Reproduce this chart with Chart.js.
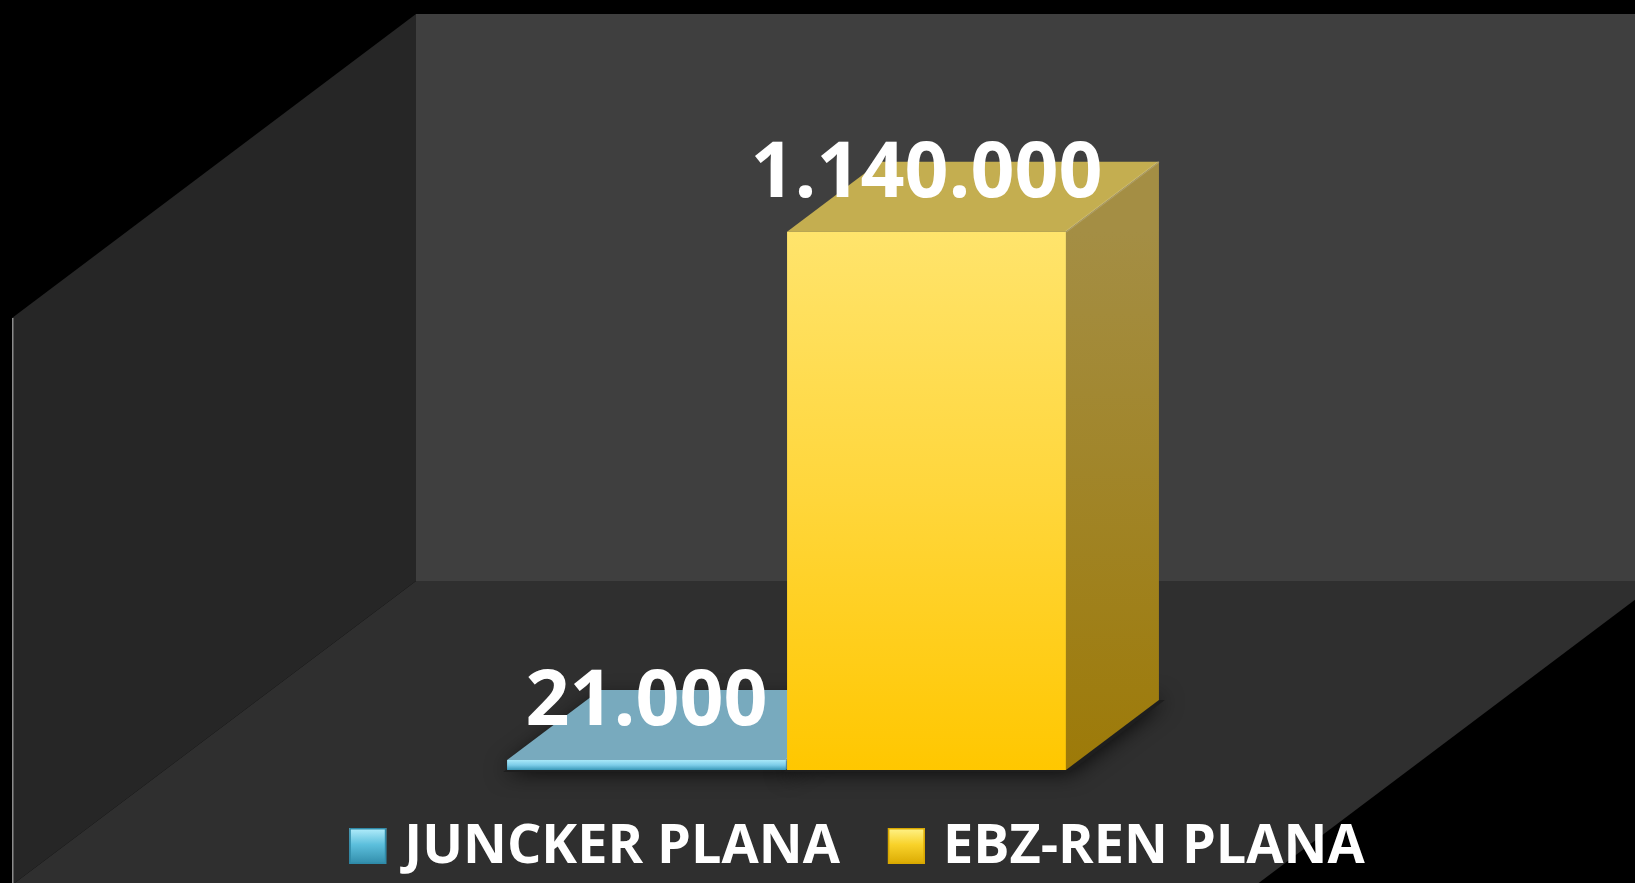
<!DOCTYPE html>
<html lang="eu">
<head>
    <meta charset="UTF-8">
    <title>Juncker plana / EBZ-ren plana</title>
    <script src="https://cdn.jsdelivr.net/npm/chart.js@4.4.0/dist/chart.umd.min.js"></script>
    <style>
        html, body { margin: 0; padding: 0; background: #000; overflow: hidden; }
        .chart-wrapper { position: relative; width: 1635px; height: 883px; }
    </style>
</head>
<body>
    <div class="chart-wrapper">
        <canvas id="planChart"></canvas>
    </div>

    <script>
        // --- Data ---
        const categories = [''];
        const seriesNames = ['JUNCKER PLANA', 'EBZ-REN PLANA'];
        const seriesValues = [21000, 1140000];
        const yMax = 1400000;

        // --- Styling ---
        const palette = [
            { front: ['#a8e8f8', '#7dcde9', '#3a98b8'], top: '#78aabe', side: ['#5f93a8', '#4b7f93'], legend: ['#b5eefc', '#5cbfdc', '#2f8aa8'] },
            { front: ['#ffe46c', '#ffd63a', '#ffc700'], top: '#c4ae50', side: ['#a48e44', '#9d7a08'], legend: ['#fff38a', '#f8d22a', '#d9a800'] }
        ];
        const depth = { dx: 93, dy: -70 };         // bar depth offset
        const frame = {
            left: 416, right: 1660, top: 14, bottom: 581,
            dx: -404, dy: 304,
            back: '#3f3f3f', side: '#262626', floor: '#2f2f2f'
        };

        // thousands with dots: 1140000 -> 1.140.000
        function fmt(v) {
            return String(v).replace(/\B(?=(\d{3})+(?!\d))/g, '.');
        }

        function frontFill(i) {
            return function(ctx) {
                const stops = palette[i].front;
                if (ctx.type !== 'data' || !ctx.chart.chartArea) return stops[1];
                const y = ctx.chart.scales.y;
                const top = y.getPixelForValue(ctx.raw);
                const base = y.getPixelForValue(0);
                const g = ctx.chart.ctx.createLinearGradient(0, top, 0, base);
                g.addColorStop(0, stops[0]);
                g.addColorStop(0.5, stops[1]);
                g.addColorStop(1, stops[2]);
                return g;
            };
        }

        function poly(ctx, pts) {
            ctx.beginPath();
            ctx.moveTo(pts[0][0], pts[0][1]);
            for (let k = 1; k < pts.length; k++) ctx.lineTo(pts[k][0], pts[k][1]);
            ctx.closePath();
        }

        // back wall, side wall and floor
        const roomPlugin = {
            id: 'room',
            beforeDraw(chart) {
                const ctx = chart.ctx;
                const f = frame;
                ctx.save();
                ctx.fillStyle = '#000';
                ctx.fillRect(0, 0, chart.width, chart.height);
                ctx.fillStyle = f.back;
                ctx.fillRect(f.left, f.top, f.right - f.left, f.bottom - f.top);
                ctx.fillStyle = f.side;
                poly(ctx, [[f.left, f.top], [f.left + f.dx, f.top + f.dy], [f.left + f.dx, f.bottom + f.dy], [f.left, f.bottom]]);
                ctx.fill();
                ctx.fillStyle = f.floor;
                poly(ctx, [[f.left, f.bottom], [f.right, f.bottom], [f.right + f.dx, f.bottom + f.dy], [f.left + f.dx, f.bottom + f.dy]]);
                ctx.fill();
                ctx.strokeStyle = '#8a8a8a';
                ctx.lineWidth = 1.5;
                ctx.beginPath();
                ctx.moveTo(f.left + f.dx + 0.75, f.top + f.dy);
                ctx.lineTo(f.left + f.dx + 0.75, chart.height);
                ctx.stroke();
                ctx.restore();
            }
        };

        // top and side faces of the bars, plus floor shadow
        const depthPlugin = {
            id: 'barDepth',
            beforeDatasetsDraw(chart) {
                const ctx = chart.ctx;
                const bars = [];
                chart.data.datasets.forEach((ds, i) => {
                    chart.getDatasetMeta(i).data.forEach(el => {
                        const p = el.getProps(['x', 'y', 'base', 'width'], true);
                        bars.push({ i, l: p.x - p.width / 2, r: p.x + p.width / 2, y: p.y, base: p.base });
                    });
                });
                ctx.save();
                ctx.shadowColor = 'rgba(0,0,0,0.85)';
                ctx.shadowBlur = 22;
                ctx.fillStyle = '#1e1e1e';
                bars.forEach(b => {
                    poly(ctx, [[b.l - 4, b.base + 2], [b.r + 4, b.base + 2], [b.r + depth.dx + 6, b.base + depth.dy], [b.l + depth.dx, b.base + depth.dy]]);
                    ctx.fill();
                });
                ctx.restore();

                ctx.save();
                bars.forEach(b => {
                    const c = palette[b.i];
                    const { dx, dy } = depth;
                    // top
                    ctx.fillStyle = c.top;
                    poly(ctx, [[b.l, b.y], [b.r, b.y], [b.r + dx, b.y + dy], [b.l + dx, b.y + dy]]);
                    ctx.fill();
                    // side
                    const g = ctx.createLinearGradient(0, b.y, 0, b.base);
                    g.addColorStop(0, c.side[0]);
                    g.addColorStop(1, c.side[1]);
                    ctx.fillStyle = g;
                    poly(ctx, [[b.r, b.y], [b.r + dx, b.y + dy], [b.r + dx, b.base + dy], [b.r, b.base]]);
                    ctx.fill();
                    // light edge along the top-front-right
                    ctx.strokeStyle = 'rgba(255,255,255,0.18)';
                    ctx.lineWidth = 2;
                    ctx.beginPath();
                    ctx.moveTo(b.r, b.y);
                    ctx.lineTo(b.r + dx, b.y + dy);
                    ctx.stroke();
                });
                ctx.restore();
            },
            afterDatasetsDraw(chart) {
                const ctx = chart.ctx;
                ctx.save();
                ctx.font = 'bold 77px "Open Sans"';
                ctx.fillStyle = '#ffffff';
                ctx.textAlign = 'center';
                ctx.textBaseline = 'alphabetic';
                chart.data.datasets.forEach((ds, i) => {
                    chart.getDatasetMeta(i).data.forEach((el, j) => {
                        ctx.fillText(fmt(ds.data[j]), el.x, el.y - 35);
                    });
                });
                ctx.restore();
            }
        };

        // legend drawn under the floor
        const legendPlugin = {
            id: 'floorLegend',
            afterDraw(chart) {
                const ctx = chart.ctx;
                const box = 37, gap = 18, spacing = 48, centerX = 857, boxTop = 828, baseline = 863;
                ctx.save();
                ctx.font = 'bold 54px "Open Sans"';
                const items = chart.data.datasets.map((ds, i) => ({ i, text: ds.label, w: ctx.measureText(ds.label).width }));
                const total = items.reduce((s, it) => s + box + gap + it.w, 0) + spacing * (items.length - 1);
                let x = centerX - total / 2;
                items.forEach(it => {
                    const c = palette[it.i].legend;
                    const g = ctx.createLinearGradient(0, boxTop, 0, boxTop + box);
                    g.addColorStop(0, c[0]);
                    g.addColorStop(0.45, c[1]);
                    g.addColorStop(1, c[2]);
                    ctx.fillStyle = g;
                    ctx.fillRect(x, boxTop, box, box - 1);
                    ctx.strokeStyle = c[2];
                    ctx.lineWidth = 1.5;
                    ctx.strokeRect(x + 0.75, boxTop + 0.75, box - 1.5, box - 2.5);
                    ctx.fillStyle = '#ffffff';
                    ctx.textBaseline = 'alphabetic';
                    ctx.fillText(it.text, x + box + gap, baseline);
                    x += box + gap + it.w + spacing;
                });
                ctx.restore();
            }
        };

        const ctx = document.getElementById('planChart').getContext('2d');
        new Chart(ctx, {
            type: 'bar',
            data: {
                labels: categories,
                datasets: seriesNames.map((name, i) => ({
                    label: name,
                    data: [seriesValues[i]],
                    backgroundColor: frontFill(i),
                    borderWidth: 0,
                    categoryPercentage: 0.7557,
                    barPercentage: 0.996
                }))
            },
            options: {
                responsive: true,
                maintainAspectRatio: false,
                animation: false,
                layout: { padding: { left: 416, right: 478, top: 109, bottom: 113 } },
                scales: {
                    x: { display: false, grid: { display: false } },
                    y: { display: false, min: 0, max: yMax, grid: { display: false } }
                },
                plugins: {
                    legend: { display: false },
                    tooltip: { enabled: false }
                }
            },
            plugins: [roomPlugin, depthPlugin, legendPlugin]
        });
    </script>
</body>
</html>
